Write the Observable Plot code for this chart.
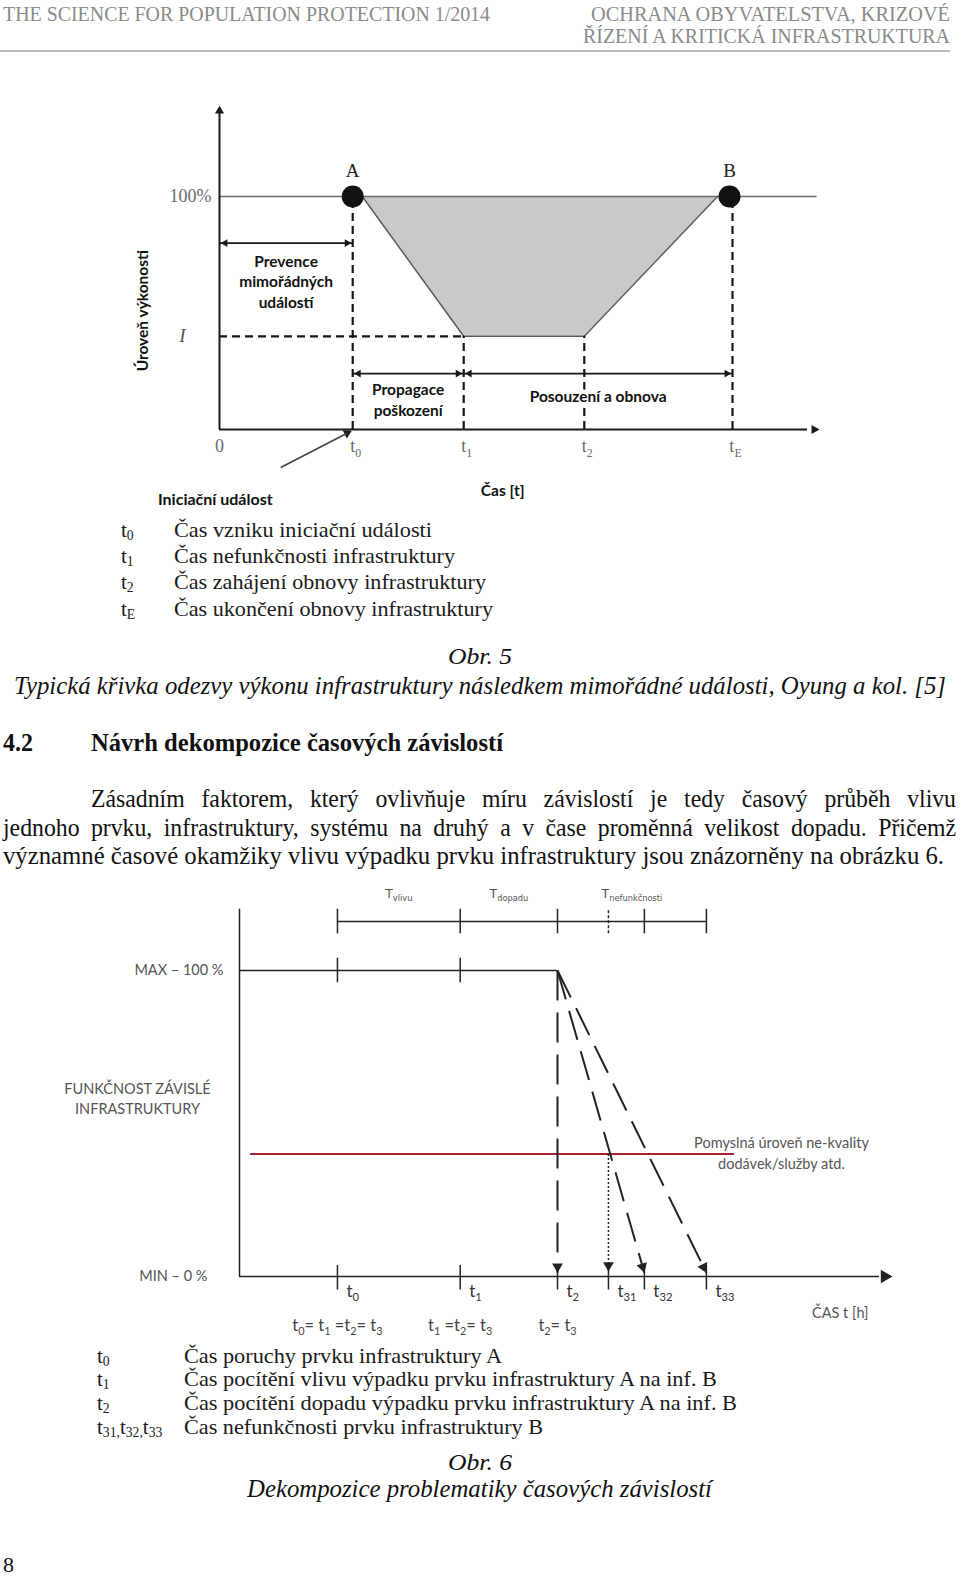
<!DOCTYPE html>
<html><head><meta charset="utf-8">
<script src="https://cdn.jsdelivr.net/npm/d3@7"></script>
<script src="https://cdn.jsdelivr.net/npm/@observablehq/plot@0.6"></script>
<style>
body{margin:0;background:#fff;}
#page{position:relative;width:960px;height:1578px;overflow:hidden;background:#fff;}
.t{position:absolute;white-space:nowrap;line-height:1.2;transform-origin:0 0;}
.t sub{font-size:65%;vertical-align:-0.22em;line-height:0;}
#page svg{position:absolute;left:0;}
</style></head><body><div id="page"></div>
<script>
// ---------- Obr. 5 data ----------
const obr5Times = [22.2, 40.7, 60.8, 85.5];            // t0, t1, t2, tE on a 0..100 time scale
const obr5TimeLabels = ["t_{0}", "t_{1}", "t_{2}", "t_{E}"];
const obr5Full = 100;                                   // 100 %
const obr5I = 40;                                       // level I
const obr5CurveX = [23.8, 40.7, 60.8, 83.0];
const obr5CurveY = [100, 40, 40, 100];
const obr5PointLabels = ["A", "B"];
const obr5PointX = [22.2, 85.0];
const obr5Phases = ["Prevence\nmimořádných\nudálostí", "Propagace\npoškození", "Posouzení a obnova"];
const obr5PhaseFrom = [0, 22.2, 40.7];
const obr5PhaseTo = [22.2, 40.7, 85.5];
const obr5PhaseLevel = [80, 24, 24];
const obr5LegendSym = ["t<sub>0</sub>", "t<sub>1</sub>", "t<sub>2</sub>", "t<sub>E</sub>"];
const obr5LegendText = ["Čas vzniku iniciační události", "Čas nefunkčnosti infrastruktury", "Čas zahájení obnovy infrastruktury", "Čas ukončení obnovy infrastruktury"];

// ---------- Obr. 6 data ----------
const obr6Times = [15, 33.8, 48.7, 56.5, 62, 71.5];     // t0, t1, t2, t31, t32, t33
const obr6TimeLabels = ["t_{0}", "t_{1}", "t_{2}", "t_{31}", "t_{32}", "t_{33}"];
const obr6Max = 100;
const obr6Threshold = 40;
const obr6Equalities = ["t_{0}= t_{1} =t_{2}= t_{3}", "t_{1} =t_{2}= t_{3}", "t_{2}= t_{3}"];
const obr6Periods = ["T_{vlivu}", "T_{dopadu}", "T_{nefunkčnosti}"];
const obr6PeriodFrom = [15, 33.8, 48.7];
const obr6PeriodTo = [33.8, 48.7, 71.5];
const obr6DropTo = [48.7, 62, 71.5];                    // loss curves ending at t2, t32, t33
const obr6LegendSym = ["t<sub>0</sub>", "t<sub>1</sub>", "t<sub>2</sub>", "t<sub>31,</sub>t<sub>32,</sub>t<sub>33</sub>"];
const obr6LegendText = ["Čas poruchy prvku infrastruktury A", "Čas pocítění vlivu výpadku prvku infrastruktury A na inf. B", "Čas pocítění dopadu výpadku prvku infrastruktury A na inf. B", "Čas nefunkčnosti prvku infrastruktury B"];

// ---------- helpers ----------
const page = document.getElementById("page");
const SERIF = '"Liberation Serif","Times New Roman",serif';
const SANS = 'Lato, "Open Sans", sans-serif';

function txt(html, x, cy, o = {}) {
  const el = document.createElement("div");
  el.className = "t";
  el.innerHTML = html;
  const fs = o.size || 21;
  el.style.fontSize = fs + "px";
  el.style.fontFamily = o.family || SERIF;
  if (o.weight) el.style.fontWeight = o.weight;
  if (o.italic) el.style.fontStyle = "italic";
  el.style.color = o.color || "#111";
  el.style.top = (cy - fs * 0.57) + "px";
  el.style.left = "0px";
  page.appendChild(el);
  let w = el.getBoundingClientRect().width;
  if (o.width) {
    const s = o.squeeze || 1;
    const target = o.width / s;
    if (o.justify && w < target) {
      const n = (el.textContent.match(/ /g) || []).length;
      el.style.wordSpacing = ((target - w) / n) + "px";
      el.style.transform = `scaleX(${s})`;
    } else {
      el.style.transform = `scaleX(${o.width / w})`;
    }
    w = o.width;
  }
  const a = o.anchor || "start";
  el.style.left = (a === "middle" ? x - w / 2 : a === "end" ? x - w : x) + "px";
  return el;
}

function subify(root) {
  root.querySelectorAll("text, tspan").forEach(el => {
    if (el.childElementCount) return;
    const s = el.textContent;
    if (!s.includes("_{")) return;
    const fs = parseFloat(getComputedStyle(el).fontSize) || 12;
    el.textContent = "";
    let shifted = false;
    for (const p of s.split(/(_\{[^}]*\})/)) {
      if (!p) continue;
      const ts = document.createElementNS("http://www.w3.org/2000/svg", "tspan");
      if (p.startsWith("_{")) {
        ts.textContent = p.slice(2, -1);
        ts.setAttribute("font-size", fs * 0.66);
        if (!shifted) ts.setAttribute("dy", fs * 0.26);
        shifted = true;
      } else {
        ts.textContent = p;
        if (shifted) ts.setAttribute("dy", -fs * 0.26);
        shifted = false;
      }
      el.appendChild(ts);
    }
  });
}

// arrow head (triangle) so that its apex sits at (x2,y2), pointing from (x1,y1)
function head(x1, y1, x2, y2, kx, ky, r) {
  const dxp = (x2 - x1) * kx, dyp = -(y2 - y1) * ky;
  const L = Math.hypot(dxp, dyp), ux = dxp / L, uy = dyp / L;
  const back = 2 * Math.sqrt(Math.PI * r * r / (Math.sqrt(3) * 3));
  return {x: x2 - back * ux / kx, y: y2 + back * uy / ky, rotate: Math.atan2(ux, -uy) * 180 / Math.PI};
}

// ---------- page header ----------
txt("THE SCIENCE FOR POPULATION PROTECTION 1/2014", 3, 14, {size: 21, color: "#8a8a8a", width: 487});
txt("OCHRANA OBYVATELSTVA, KRIZOVÉ", 950, 14, {size: 21, color: "#8a8a8a", width: 359, anchor: "end"});
txt("ŘÍZENÍ A KRITICKÁ INFRASTRUKTURA", 950, 36, {size: 21, color: "#8a8a8a", width: 367, anchor: "end"});
{
  const r = document.createElement("div");
  r.style.cssText = "position:absolute;left:0;top:50px;width:950px;height:2px;background:#bcbcbc;";
  page.appendChild(r);
}

// ---------- Obr. 5 chart ----------
{
  const top = 90;
  const kx = 6, ky = 2.33;
  const [t0, t1, t2, tE] = obr5Times;
  const poly = obr5CurveX.map((x, i) => ({x, y: obr5CurveY[i], top: obr5Full}));
  const points = obr5PointX.map((x, i) => ({x, y: obr5Full, label: obr5PointLabels[i]}));
  const ticks = obr5Times.map((x, i) => ({x, label: obr5TimeLabels[i]}));
  const phases = obr5Phases.map((p, i) => ({x1: obr5PhaseFrom[i], x2: obr5PhaseTo[i], y: obr5PhaseLevel[i], label: p, xm: (obr5PhaseFrom[i] + obr5PhaseTo[i]) / 2}));
  const phaseHeads = phases.flatMap(p => [head(p.xm, p.y, p.x1 + 0.2, p.y, kx, ky, 2.9), head(p.xm, p.y, p.x2 - 0.2, p.y, kx, ky, 2.9)]);
  const initTail = {x: 10.2, y: -16.3}, initTip = {x: 22.0, y: -0.6};
  const yHead = head(0, 0, 0, 139, kx, ky, 3.4);
  const xHead = head(0, 0, 100, 0, kx, ky, 3.4);
  const iHead = head(initTail.x, initTail.y, initTip.x, initTip.y, kx, ky, 3.2);
  const dash = {stroke: "#161616", strokeWidth: 2.2, strokeDasharray: "8,5"};
  const phaseDy = [37.5, 25.5, 22];
  const fig = Plot.plot({
    width: 960, height: 430, margin: 0,
    x: {domain: [0, 100], range: [219, 819], axis: null},
    y: {domain: [0, 100], range: [339, 106], axis: null},
    style: {background: "transparent", overflow: "visible"},
    marks: [
      Plot.areaY(poly, {x: "x", y1: "y", y2: "top", fill: "#c9c9c9"}),
      Plot.ruleY([obr5Full], {x1: 0, x2: 99.6, stroke: "#6a6a6a", strokeWidth: 1.6}),
      Plot.line(poly, {x: "x", y: "y", stroke: "#5a5a5a", strokeWidth: 1.5}),
      Plot.ruleX([t0, tE], {y1: 0, y2: obr5Full, ...dash}),
      Plot.ruleX([t1, t2], {y1: 0, y2: obr5I, ...dash}),
      Plot.ruleY([obr5I], {x1: 0, x2: t1, ...dash}),
      Plot.ruleX([0], {y1: 0, y2: 136, stroke: "#1a1a1a", strokeWidth: 2}),
      Plot.ruleY([0], {x1: 0, x2: 98, stroke: "#1a1a1a", strokeWidth: 2}),
      Plot.dot([yHead, xHead, iHead], {x: "x", y: "y", rotate: "rotate", symbol: "triangle", r: 3.4, fill: "#1a1a1a"}),
      Plot.link([{...initTail, x2: iHead.x, y2: iHead.y}], {x1: "x", y1: "y", x2: "x2", y2: "y2", stroke: "#444", strokeWidth: 1.6}),
      Plot.link(phases, {x1: "x1", x2: "x2", y1: "y", y2: "y", stroke: "#1a1a1a", strokeWidth: 1.6}),
      Plot.dot(phaseHeads, {x: "x", y: "y", rotate: "rotate", symbol: "triangle", r: 2.9, fill: "#1a1a1a"}),
      Plot.dot(points, {x: "x", y: "y", r: 11, fill: "#111"}),
      Plot.text(points, {x: "x", y: "y", text: "label", dy: -26, fontFamily: SERIF, fontSize: 19, fill: "#222"}),
      Plot.text(ticks, {x: "x", y: 0, text: "label", dy: 17, dx: 3, fontFamily: SERIF, fontSize: 18, fill: "#6a6a6a"}),
      Plot.text(["0"], {x: 0, y: 0, text: d => d, dy: 17, fontFamily: SERIF, fontSize: 18, fill: "#6a6a6a"}),
      Plot.text(["100%"], {x: 0, y: obr5Full, text: d => d, dx: -8, textAnchor: "end", fontFamily: SERIF, fontSize: 18, fill: "#6a6a6a"}),
      Plot.text(["I"], {x: 0, y: obr5I, text: d => d, dx: -37, fontFamily: SERIF, fontStyle: "italic", fontSize: 19, fill: "#555"}),
      ...phases.map((p, i) => Plot.text([p], {x: "xm", y: "y", text: "label", dy: phaseDy[i], lineHeight: 1.32, fontFamily: SANS, fontWeight: 700, fontSize: 15.5, fill: "#111", stroke: "white", strokeWidth: 9, paintOrder: "stroke"})),
      Plot.text(["Úroveň výkonosti"], {x: -12.7, y: 51, text: d => d, rotate: -90, fontFamily: SANS, fontWeight: 700, fontSize: 15.5, fill: "#111"}),
      Plot.text(["Iniciační událost"], {x: -0.7, y: -30, text: d => d, fontFamily: SANS, fontWeight: 700, fontSize: 16, fill: "#111"}),
      Plot.text(["Čas [t]"], {x: 47.2, y: -26.2, text: d => d, fontFamily: SANS, fontWeight: 700, fontSize: 15.5, fill: "#111"})
    ]
  });
  fig.style.top = top + "px";
  page.appendChild(fig);
  subify(fig);
}

// ---------- Obr. 5 legend and captions ----------
obr5LegendSym.forEach((s, i) => {
  const cy = [530, 556, 582, 609][i];
  txt(s, 121, cy, {size: 21, color: "#1a1a1a"});
  txt(obr5LegendText[i], 174, cy, {size: 22, color: "#1a1a1a", width: [258, 281, 312, 319][i]});
});
txt("Obr. 5", 480, 656, {size: 24, italic: true, anchor: "middle", width: 64});
txt("Typická křivka odezvy výkonu infrastruktury následkem mimořádné události, Oyung a kol. [5]", 14, 685, {size: 25, italic: true, width: 932});
txt("4.2", 3, 742, {size: 25, weight: 700, width: 30});
txt("Návrh dekompozice časových závislostí", 91, 742, {size: 25, weight: 700, width: 412});
txt("Zásadním faktorem, který ovlivňuje míru závislostí je tedy časový průběh vlivu", 91, 798, {size: 25, width: 865, justify: true, squeeze: 0.95});
txt("jednoho prvku, infrastruktury, systému na druhý a v čase proměnná velikost dopadu. Přičemž", 3, 827, {size: 25, width: 953, justify: true, squeeze: 0.95});
txt("významné časové okamžiky vlivu výpadku prvku infrastruktury jsou znázorněny na obrázku 6.", 3, 855, {size: 25, width: 941});

// ---------- Obr. 6 chart ----------
{
  const top = 870;
  const kx = 6.53, ky = 3.06;
  const [t0, t1, t2, t31, t32, t33] = obr6Times;
  const ticks = obr6Times.map((x, i) => ({x, label: obr6TimeLabels[i]}));
  const eqs = obr6Equalities.map((e, i) => ({x: obr6Times[i], label: e}));
  const periods = obr6Periods.map((p, i) => ({x: (obr6PeriodFrom[i] + obr6PeriodTo[i]) / 2, label: p}));
  const drops = obr6DropTo.map(x2 => ({x1: t2, y1: obr6Max, x2, y2: 1.2}));
  const heads = drops.map(d => head(d.x1, d.y1, d.x2, d.y2, kx, ky, 4));
  const dotHead = head(t31, obr6Threshold, t31, 1.6, kx, ky, 4);
  const axisHead = head(0, 0, 100, 0, kx, ky, 5);
  const ink = "#222";
  const fig = Plot.plot({
    width: 960, height: 480, margin: 0,
    x: {domain: [0, 100], range: [239, 892], axis: null},
    y: {domain: [0, 100], range: [406, 100], axis: null},
    style: {background: "transparent", overflow: "visible"},
    marks: [
      Plot.ruleX([0], {y1: 0, y2: 120, stroke: ink, strokeWidth: 1.5}),
      Plot.ruleY([0], {x1: 0, x2: 98, stroke: ink, strokeWidth: 1.5}),
      Plot.ruleY([obr6Max], {x1: 0, x2: t2, stroke: ink, strokeWidth: 1.5}),
      Plot.ruleX([t0, t1], {y1: 96, y2: 104, stroke: ink, strokeWidth: 1.5}),
      Plot.ruleY([116], {x1: t0, x2: t33, stroke: ink, strokeWidth: 1.5}),
      Plot.ruleX([t0, t1, t2, t32, t33], {y1: 112, y2: 120, stroke: ink, strokeWidth: 1.5}),
      Plot.ruleX([t31], {y1: 112, y2: 120, stroke: ink, strokeWidth: 1.5, strokeDasharray: "3,2"}),
      Plot.ruleX(obr6Times, {y1: -4.4, y2: 3.6, stroke: ink, strokeWidth: 1.5}),
      Plot.ruleY([obr6Threshold], {x1: 1.7, x2: 75.8, stroke: "#a3262c", strokeWidth: 2}),
      Plot.link(drops, {x1: "x1", y1: "y1", x2: "x2", y2: "y2", stroke: ink, strokeWidth: 2, strokeDasharray: "30,12"}),
      Plot.link([{x1: t31, y1: obr6Threshold, x2: t31, y2: 2}], {x1: "x1", y1: "y1", x2: "x2", y2: "y2", stroke: ink, strokeWidth: 1.5, strokeDasharray: "2,2"}),
      Plot.dot([...heads, dotHead], {x: "x", y: "y", rotate: "rotate", symbol: "triangle", r: 4, fill: ink}),
      Plot.dot([axisHead], {x: "x", y: "y", rotate: "rotate", symbol: "triangle", r: 5, fill: ink}),
      Plot.text(periods, {x: "x", y: 116, text: "label", dy: -28, fontFamily: '"DejaVu Sans", Arial, sans-serif', fontSize: 12.5, fill: "#555"}),
      Plot.text(ticks, {x: "x", y: 0, text: "label", dx: 9, dy: 15, textAnchor: "start", fontFamily: SANS, fontSize: 17, fill: "#333"}),
      Plot.text(eqs, {x: "x", y: 0, text: "label", dy: 49, fontFamily: SANS, fontSize: 16.5, fill: "#444"}),
      Plot.text(["MAX – 100 %"], {x: 0, y: obr6Max, text: d => d, dx: -16, textAnchor: "end", fontFamily: SANS, fontSize: 14.5, fill: "#555"}),
      Plot.text(["MIN – 0 %"], {x: 0, y: 0, text: d => d, dx: -32, textAnchor: "end", fontFamily: SANS, fontSize: 14.5, fill: "#555"}),
      Plot.text(["FUNKČNOST ZÁVISLÉ\nINFRASTRUKTURY"], {x: 0, y: 58.6, text: d => d, dx: -102, lineHeight: 1.4, fontFamily: SANS, fontSize: 14.5, fill: "#555"}),
      Plot.text(["Pomyslná úroveň ne-kvality\ndodávek/služby atd."], {x: 83, y: obr6Threshold, text: d => d, dy: -2, lineHeight: 1.45, fontFamily: SANS, fontSize: 14.5, fill: "#555"}),
      Plot.text(["ČAS t [h]"], {x: 92, y: 0, text: d => d, dy: 37, fontFamily: SANS, fontSize: 14.5, fill: "#555"})
    ]
  });
  fig.style.top = top + "px";
  page.appendChild(fig);
  subify(fig);
}

// ---------- Obr. 6 legend and captions ----------
obr6LegendSym.forEach((s, i) => {
  const cy = [1356, 1379, 1403, 1427][i];
  txt(s, 97, cy, {size: 21, color: "#1a1a1a"});
  txt(obr6LegendText[i], 184, cy, {size: 21.5, color: "#1a1a1a", width: [318, 533, 553, 359][i]});
});
txt("Obr. 6", 480, 1462, {size: 24, italic: true, anchor: "middle", width: 64});
txt("Dekompozice problematiky časových závislostí", 247, 1488, {size: 25, italic: true, width: 465});
txt("8", 3, 1565, {size: 22});
</script>
</body></html>
